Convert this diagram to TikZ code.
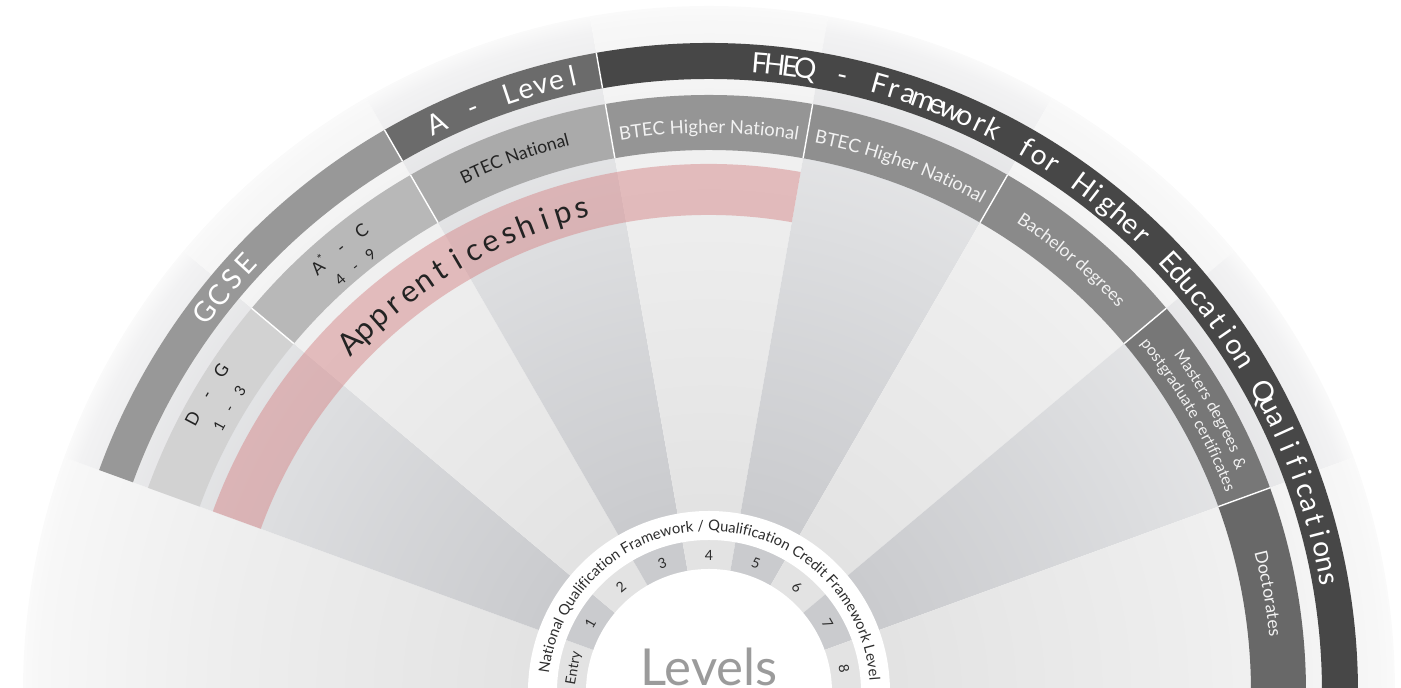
\documentclass[tikz,border=0pt]{standalone}
\usepackage{fontspec}
\setmainfont{Lato}
\usetikzlibrary{decorations.text}

% wedge shadings, 25bp is the rim of the disc
\pgfdeclareradialshading{darkfade}{\pgfpointorigin}{%
  rgb(0bp)=(0.788,0.792,0.804); rgb(6.7bp)=(0.792,0.796,0.808); rgb(13.1bp)=(0.835,0.839,0.849);
  rgb(16.8bp)=(0.863,0.867,0.875); rgb(22bp)=(0.906,0.908,0.914); rgb(24.4bp)=(0.949,0.949,0.953);
  rgb(25bp)=(0.98,0.98,0.98); rgb(50bp)=(1,1,1)}
\pgfdeclareradialshading{lightfade}{\pgfpointorigin}{%
  rgb(0bp)=(0.886,0.886,0.886); rgb(6.7bp)=(0.890,0.890,0.890); rgb(10.7bp)=(0.906,0.906,0.906);
  rgb(17.9bp)=(0.933,0.933,0.933); rgb(22.4bp)=(0.957,0.957,0.957); rgb(24.4bp)=(0.969,0.969,0.969);
  rgb(25bp)=(0.98,0.98,0.98); rgb(50bp)=(1,1,1)}

% letters spread along an arc: name, radius, from, to, size, colour, letters (_ = space)
\def\spacemark{_}
\newcommand{\fitarc}[7]{%
  \gdef\tot{0}\gdef\cnt{0}%
  \foreach \ch in {#7}{%
    \ifx\ch\spacemark\pgfmathsetmacro{\w}{0.25*#5}\else\setbox0=\hbox{\fontsize{#5}{#5}\selectfont\ch}\pgfmathsetmacro{\w}{\wd0}\fi
    \pgfmathsetmacro{\tmpv}{\tot+\w}\global\let\tot\tmpv
    \pgfmathsetmacro{\tmpv}{\cnt+1}\global\let\cnt\tmpv}%
  \pgfmathsetmacro{\trk}{((#3-#4)/57.29578*#2*0.569055-\tot)/(\cnt-1)}%
  \foreach \ch [count=\i, remember=\nxt as \cur (initially #3)] in {#7}{%
    \ifx\ch\spacemark\def\chtext{}\pgfmathsetmacro{\w}{0.25*#5}\else\let\chtext\ch\setbox0=\hbox{\fontsize{#5}{#5}\selectfont\ch}\pgfmathsetmacro{\w}{\wd0}\fi
    \pgfmathsetmacro{\cmid}{\cur-(\w/2)/(#2*0.569055)*57.29578}%
    \pgfmathsetmacro{\nxt}{\cur-(\w+\trk)/(#2*0.569055)*57.29578}%
    \node[text=#6, font=\fontsize{#5}{#5}\selectfont, anchor=base, inner sep=0pt, rotate=\cmid-90] (#1\i) at (\cmid:#2) {\chtext};}%
}

\begin{document}
\begin{tikzpicture}[x=0.02cm, y=0.02cm,
  arclabel/.style={decorate, decoration={text along path, text align=center, text color=#1}},
  lvl/.style={font=\fontsize{8}{8}\selectfont, text=lvltext, inner sep=0pt}]

\definecolor{gcse}{RGB}{152,152,152}
\definecolor{alevel}{RGB}{107,107,107}
\definecolor{fheq}{RGB}{71,71,71}
\definecolor{dg}{RGB}{210,210,210}
\definecolor{astar}{RGB}{184,184,184}
\definecolor{btec}{RGB}{170,170,170}
\definecolor{hnA}{RGB}{149,149,149}
\definecolor{hnB}{RGB}{143,143,143}
\definecolor{bach}{RGB}{138,138,138}
\definecolor{mast}{RGB}{119,119,119}
\definecolor{doct}{RGB}{104,104,104}
\definecolor{appr}{RGB}{214,136,138}
\definecolor{lvltext}{RGB}{45,45,45}
\definecolor{darktext}{RGB}{35,35,35}
\definecolor{lighttext}{RGB}{242,242,242}
\definecolor{levelsgray}{RGB}{155,155,155}

\useasboundingbox (-709,4) rectangle (692,692);
\clip (-709,4) rectangle (692,692);

% wedges, one per level
\foreach \a/\s in {160/lightfade,140/darkfade,120/lightfade,100/darkfade,80/lightfade,60/darkfade,40/lightfade,20/darkfade,0/lightfade}{
  \begin{scope}
    \clip (0,0) -- (\a:690) arc[start angle=\a, end angle=\a+20, radius=690] -- cycle;
    \shade[shading=\s] (0,0) circle (686);
  \end{scope}}

% outer ring
\foreach \a/\b/\c in {160/120/gcse,120/100/alevel,100/0/fheq}
  \fill[\c] (\a:649) arc[start angle=\a, end angle=\b, radius=649] -- (\b:613) arc[start angle=\b, end angle=\a, radius=613] -- cycle;
\foreach \a in {120,100}
  \draw[white, line width=0.8pt] (\a:613) -- (\a:649);

% qualifications ring
\foreach \a/\c in {160/dg,140/astar,120/btec,100/hnA,80/hnB,60/bach,40/mast,20/doct}
  \fill[\c] (\a:597) arc[start angle=\a, end angle=\a-20, radius=597] -- ({\a-20}:542) arc[start angle=\a-20, end angle=\a, radius=542] -- cycle;
\foreach \a in {140,120,...,20}
  \draw[white, line width=0.8pt] (\a:542) -- (\a:597);

% apprenticeships
\fill[appr, fill opacity=0.5] (160:528) arc[start angle=160, end angle=80, radius=528] -- (80:477) arc[start angle=80, end angle=160, radius=477] -- cycle;

% levels ring
\fill[white, even odd rule] (0,0) circle (181) (0,0) circle (152);
\fill[white] (0,0) circle (123);

% spread labels
\fitarc{gcse}{621}{143}{137.2}{16}{white}{G,C,S,E}
\fitarc{alev}{621}{115.6}{102.5}{16}{white}{A,_,-,_,L,e,v,e,l}
\fitarc{fheq}{621}{85.4}{10.3}{16}{white}{F,H,E,Q,_,-,_,F,r,a,m,e,w,o,r,k,_,f,o,r,_,H,i,g,h,e,r,_,E,d,u,c,a,t,i,o,n,_,Q,u,a,l,i,f,i,c,a,t,i,o,n,s}
\fitarc{appr}{490}{135.8}{104.8}{17.5}{darktext}{A,p,p,r,e,n,t,i,c,e,s,h,i,p,s}
\fitarc{dg}{578}{152.1}{146.6}{10}{darktext}{D,_,-,_,G}
\fitarc{onethree}{552}{151.5}{147.3}{8.5}{darktext}{1,_,-,_,3}
\fitarc{ac}{571}{132.4}{127}{10}{darktext}{A\textsuperscript{*},_,-,_,C}
\fitarc{fournine}{548}{131.8}{127.7}{8.5}{darktext}{4,_,-,_,9}

% ring labels
\path[arclabel=darktext, decoration={text={|\fontsize{10}{10}\selectfont|BTEC National}}] (120:564) arc[start angle=120, end angle=100, radius=564];
\path[arclabel=lighttext, decoration={text={|\fontsize{10.5}{10.5}\selectfont|BTEC Higher National}}] (100:559) arc[start angle=100, end angle=80, radius=559];
\path[arclabel=lighttext, decoration={text={|\fontsize{10.5}{10.5}\selectfont|BTEC Higher National}}] (80:559) arc[start angle=80, end angle=60, radius=559];
\path[arclabel=lighttext, decoration={text={|\fontsize{10}{10}\selectfont|Bachelor degrees}}] (60:561) arc[start angle=60, end angle=40, radius=561];
\path[arclabel=lighttext, decoration={text={|\fontsize{9}{9}\selectfont|Masters degrees}}] (36.3:574) arc[start angle=36.3, end angle=24.2, radius=574];
\node[text=lighttext, font=\fontsize{9}{9}\selectfont, rotate=-66.6, inner sep=0pt] (amp) at (23.3:578) {\&};
\path[arclabel=lighttext, decoration={text={|\fontsize{9}{9}\selectfont|postgraduate certificates}}] (40:554) arc[start angle=40, end angle=20, radius=554];
\path[arclabel=lighttext, decoration={text={|\fontsize{10}{10}\selectfont|Doctorates}}] (20:563) arc[start angle=20, end angle=0, radius=563];

\path[arclabel=lvltext, decoration={text={|\fontsize{8.4}{8.4}\selectfont|National Qualification Framework / Qualification Credit Framework Level}}] (178:161) arc[start angle=178, end angle=-0.5, radius=161];

% level numbers
\foreach \a/\t [count=\i] in {170/Entry,150/1,130/2,110/3,90/4,70/5,50/6,30/7,10/8}
  \node[lvl, rotate=\a-90] (lvl\i) at (\a:137) {\t};

\node[anchor=base, text=levelsgray, font=\fontsize{29}{29}\selectfont] (levels) at (0,6) {Levels};

\end{tikzpicture}
\end{document}
